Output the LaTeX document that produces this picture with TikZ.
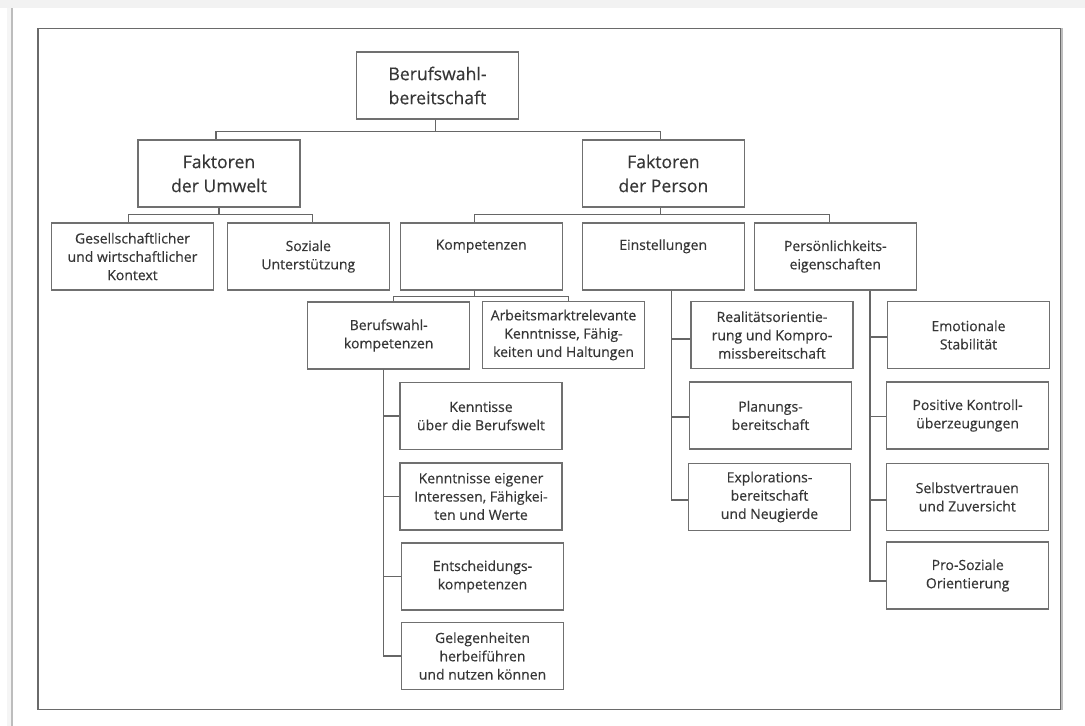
\documentclass[tikz,border=0pt]{standalone}
\usepackage{fontspec}
\setmainfont{Open Sans}[FakeBold=0.35]
\definecolor{txtc}{HTML}{363636}
\definecolor{boxc}{HTML}{707070}
\definecolor{linec}{HTML}{666666}
\definecolor{framec}{HTML}{6A6A6A}
\definecolor{topc}{HTML}{F2F2F2}
\definecolor{edgec}{HTML}{BDBDBD}
\begin{document}
\begin{tikzpicture}[x=1pt,y=-1pt,
  box/.style={draw=boxc, line width=1.1pt, minimum width=162pt, minimum height=67pt,
    inner sep=0pt, align=center, text=txtc, font=\fontsize{14}{18.3}\selectfont},
  bigbox/.style={box, font=\fontsize{17.6}{24}\selectfont},
  conn/.style={draw=linec, line width=1.1pt}]
\useasboundingbox (0,0) rectangle (1085,726);
\fill[white] (0,0) rectangle (1085,726);
\fill[topc] (0,0) rectangle (1085,8);
\fill[gray!8] (7,8) rectangle (11,726);
\draw[edgec, line width=2pt] (12,8) -- (12,726);
% frame
\draw[framec, line width=1.2pt] (38,28.3) rectangle (1060.7,709.3);
\draw[edgec, line width=2pt] (1061.7,28) -- (1061.7,710);

% level 0
\node[bigbox] (root) at (437.5,85.5) {Berufswahl-\\bereitschaft};
% level 1
\node[bigbox] (umw) at (219,173.5) {Faktoren\\der Umwelt};
\node[bigbox] (per) at (663.4,173.5) {Faktoren\\der Person};
% level 2
\node[box] (ges) at (132.5,256.5) {Gesellschaftlicher\\und wirtschaftlicher\\Kontext};
\node[box] (soz) at (308.3,256.5) {Soziale\\Unterstützung};
\node[box] (komp) at (481.2,256.5) {Kompetenzen\\\strut};
\node[box] (einst) at (663.2,256.5) {Einstellungen\\\strut};
\node[box] (pers) at (835.3,256.5) {Persönlichkeits-\\eigenschaften};
% Kompetenzen children
\node[box] (bwk) at (388.7,335.5) {Berufswahl-\\kompetenzen};
\node[box] (arb) at (563.5,335) {Arbeitsmarktrelevante\\Kenntnisse, Fähig-\\keiten und Haltungen};
\node[box] (ken1) at (481,416) {Kenntisse\\über die Berufswelt};
\node[box] (ken2) at (481,496.5) {Kenntnisse eigener\\Interessen, Fähigkei-\\ten und Werte};
\node[box] (ent) at (482.5,576.5) {Entscheidungs-\\kompetenzen};
\node[box] (gel) at (482.5,656) {Gelegenheiten\\herbeiführen\\und nutzen können};
% Einstellungen children
\node[box] (real) at (772,335) {Realitätsorientie-\\rung und Kompro-\\missbereitschaft};
\node[box] (plan) at (770.5,415.5) {Planungs-\\bereitschaft};
\node[box] (expl) at (769.5,497) {Explorations-\\bereitschaft\\und Neugierde};
% Persoenlichkeit children
\node[box] (emo) at (968.5,335) {Emotionale\\Stabilität};
\node[box] (pos) at (967.6,415.5) {Positive Kontroll-\\überzeugungen};
\node[box] (selb) at (967.3,497) {Selbstvertrauen\\und Zuversicht};
\node[box] (pro) at (967.7,575.5) {Pro-Soziale\\Orientierung};

% connectors
\draw[conn] ([xshift=-2pt]root.south) -- ++(0,11.7) coordinate (b1);
\draw[conn] ([xshift=-3pt]umw.north) |- (b1) -| ([xshift=-3pt]per.north);
\draw[conn] (umw.south) -- ++(0,7) coordinate (b2);
\draw[conn] ([xshift=-4pt]ges.north) |- (b2) -| ([xshift=4pt]soz.north);
\draw[conn] ([xshift=-3pt]per.south) -- ++(0,7) coordinate (b3);
\draw[conn] ([xshift=-7pt]komp.north) |- (b3) -| ([xshift=-6pt]pers.north);
\draw[conn] ([xshift=-7pt]komp.south) -- ++(0,6) coordinate (b4);
\draw[conn] ([xshift=5pt]bwk.north) |- (b4) -| ([xshift=5pt]arb.north);
\draw[conn] ([xshift=-5pt]bwk.south) |- (ken1.west);
\draw[conn] ([xshift=-5pt]bwk.south) |- (ken2.west);
\draw[conn] ([xshift=-5pt]bwk.south) |- (ent.west);
\draw[conn] ([xshift=-5pt]bwk.south) |- (gel.west);
\draw[conn] ([xshift=8.3pt]einst.south) |- ([yshift=-4pt]real.west);
\draw[conn] ([xshift=8.3pt]einst.south) |- ([yshift=-1.5pt]plan.west);
\draw[conn] ([xshift=8.3pt]einst.south) |- ([yshift=-3pt]expl.west);
\draw[conn] ([xshift=34.7pt]pers.south) |- ([yshift=-2pt]emo.west);
\draw[conn] ([xshift=34.7pt]pers.south) |- ([yshift=-1.2pt]pos.west);
\draw[conn] ([xshift=34.7pt]pers.south) |- ([yshift=-3pt]selb.west);
\draw[conn] ([xshift=34.7pt]pers.south) |- ([yshift=-5.5pt]pro.west);
\end{tikzpicture}
\end{document}
